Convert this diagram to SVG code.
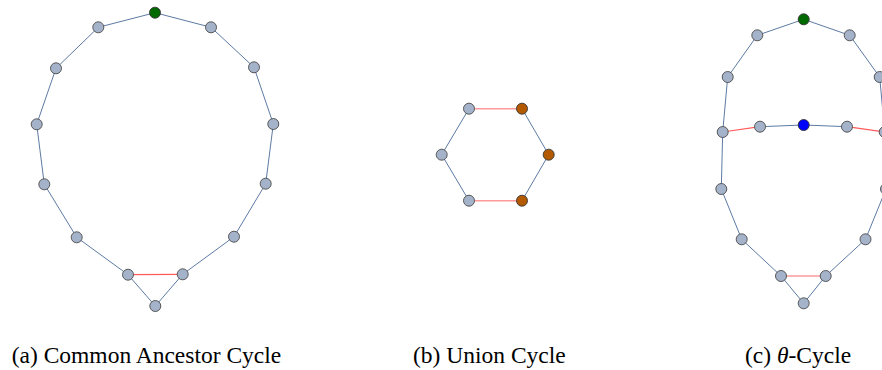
<svg xmlns="http://www.w3.org/2000/svg" width="882" height="370" viewBox="0 0 882 370">
<style>
.e{stroke:#5d7aa3;stroke-width:1;fill:none}
.r{stroke:#ff5a5a;stroke-width:1.2;fill:none}
.n{fill:#a5b3ca;stroke:#4a4a4a;stroke-width:0.9}
.g{fill:#006a00;stroke:#333;stroke-width:0.9}
.b{fill:#0000ff;stroke:#333;stroke-width:0.9}
.o{fill:#b35a00;stroke:#333;stroke-width:0.9}
.t{font-family:"Liberation Serif","Times New Roman",serif;font-size:23.5px;fill:#000}
</style>
<rect width="882" height="370" fill="#fff"/>
<g id="connectors">
<polyline class="e" points="128,274.7 76.7,237.3 44.3,184.3 36.7,124.3 56,68.3 98.3,27.3 155,12.7 211,27.3 254,67.3 273.3,124 265.7,183.7 234,236.7 182.7,274.3 155.3,306 128,274.7"/>
<line class="r" x1="128" y1="274.7" x2="182.7" y2="274.3"/>
<polyline class="e" points="469,108.7 441.7,154.7 469,200.7"/>
<polyline class="e" points="522,108.7 548.7,154.7 522,200.7"/>
<line class="r" x1="469" y1="108.7" x2="522" y2="108.7" style="stroke:#ff9a9a;stroke-width:1.5"/>
<line class="r" x1="469" y1="200.7" x2="522" y2="200.7" style="stroke:#ff9a9a;stroke-width:1.5"/>
<polyline class="e" points="781,276 741.7,239.3 721.3,189 722.7,132 727.7,77 757.3,35.3 803.7,19.3 849.7,35.3 879.7,77 884.7,132 886,189 865.5,239.3 825.7,276 803.7,303.3 781,276"/>
<line class="r" x1="781" y1="276" x2="825.7" y2="276" style="stroke:#ff9a9a;stroke-width:1.5"/>
<polyline class="e" points="760,126.7 803.7,125 847,126.7"/>
<line class="r" x1="722.7" y1="132" x2="760" y2="126.7"/>
<line class="r" x1="847" y1="126.7" x2="884.7" y2="132"/>
</g>
<g id="graph-a">
<circle id="a1" class="g" cx="155" cy="12.7" r="5.5"/>
<circle id="a2" class="n" cx="98.3" cy="27.3" r="5.5"/>
<circle id="a3" class="n" cx="211" cy="27.3" r="5.5"/>
<circle id="a4" class="n" cx="56" cy="68.3" r="5.5"/>
<circle id="a5" class="n" cx="254" cy="67.3" r="5.5"/>
<circle id="a6" class="n" cx="36.7" cy="124.3" r="5.5"/>
<circle id="a7" class="n" cx="273.3" cy="124" r="5.5"/>
<circle id="a8" class="n" cx="44.3" cy="184.3" r="5.5"/>
<circle id="a9" class="n" cx="265.7" cy="183.7" r="5.5"/>
<circle id="a10" class="n" cx="76.7" cy="237.3" r="5.5"/>
<circle id="a11" class="n" cx="234" cy="236.7" r="5.5"/>
<circle id="a12" class="n" cx="128" cy="274.7" r="5.5"/>
<circle id="a13" class="n" cx="182.7" cy="274.3" r="5.5"/>
<circle id="a14" class="n" cx="155.3" cy="306" r="5.5"/>
</g>
<g id="graph-b">
<circle id="b1" class="n" cx="469" cy="108.7" r="5.5"/>
<circle id="b2" class="o" cx="522" cy="108.7" r="5.5"/>
<circle id="b3" class="n" cx="441.7" cy="154.7" r="5.5"/>
<circle id="b4" class="o" cx="548.7" cy="154.7" r="5.5"/>
<circle id="b5" class="n" cx="469" cy="200.7" r="5.5"/>
<circle id="b6" class="o" cx="522" cy="200.7" r="5.5"/>
</g>
<g id="graph-c">
<circle id="c1" class="g" cx="803.7" cy="19.3" r="5.5"/>
<circle id="c2" class="n" cx="757.3" cy="35.3" r="5.5"/>
<circle id="c3" class="n" cx="849.7" cy="35.3" r="5.5"/>
<circle id="c4" class="n" cx="727.7" cy="77" r="5.5"/>
<circle id="c5" class="n" cx="879.7" cy="77" r="5.5"/>
<circle id="c6" class="n" cx="722.7" cy="132" r="5.5"/>
<circle id="c7" class="n" cx="760" cy="126.7" r="5.5"/>
<circle id="c8" class="b" cx="803.7" cy="125" r="5.5"/>
<circle id="c9" class="n" cx="847" cy="126.7" r="5.5"/>
<circle id="c10" class="n" cx="884.7" cy="132" r="5.5"/>
<circle id="c11" class="n" cx="721.3" cy="189" r="5.5"/>
<circle id="c12" class="n" cx="886" cy="189" r="5.5"/>
<circle id="c13" class="n" cx="741.7" cy="239.3" r="5.5"/>
<circle id="c14" class="n" cx="865.5" cy="239.3" r="5.5"/>
<circle id="c15" class="n" cx="781" cy="276" r="5.5"/>
<circle id="c16" class="n" cx="825.7" cy="276" r="5.5"/>
<circle id="c17" class="n" cx="803.7" cy="303.3" r="5.5"/>
</g>
<g id="captions">
<text class="t" x="11.7" y="363">(a) Common Ancestor Cycle</text>
<text class="t" x="413" y="363">(b) Union Cycle</text>
<text class="t" x="745" y="363">(c) <tspan font-style="italic">θ</tspan>-Cycle</text>
</g>
</svg>
